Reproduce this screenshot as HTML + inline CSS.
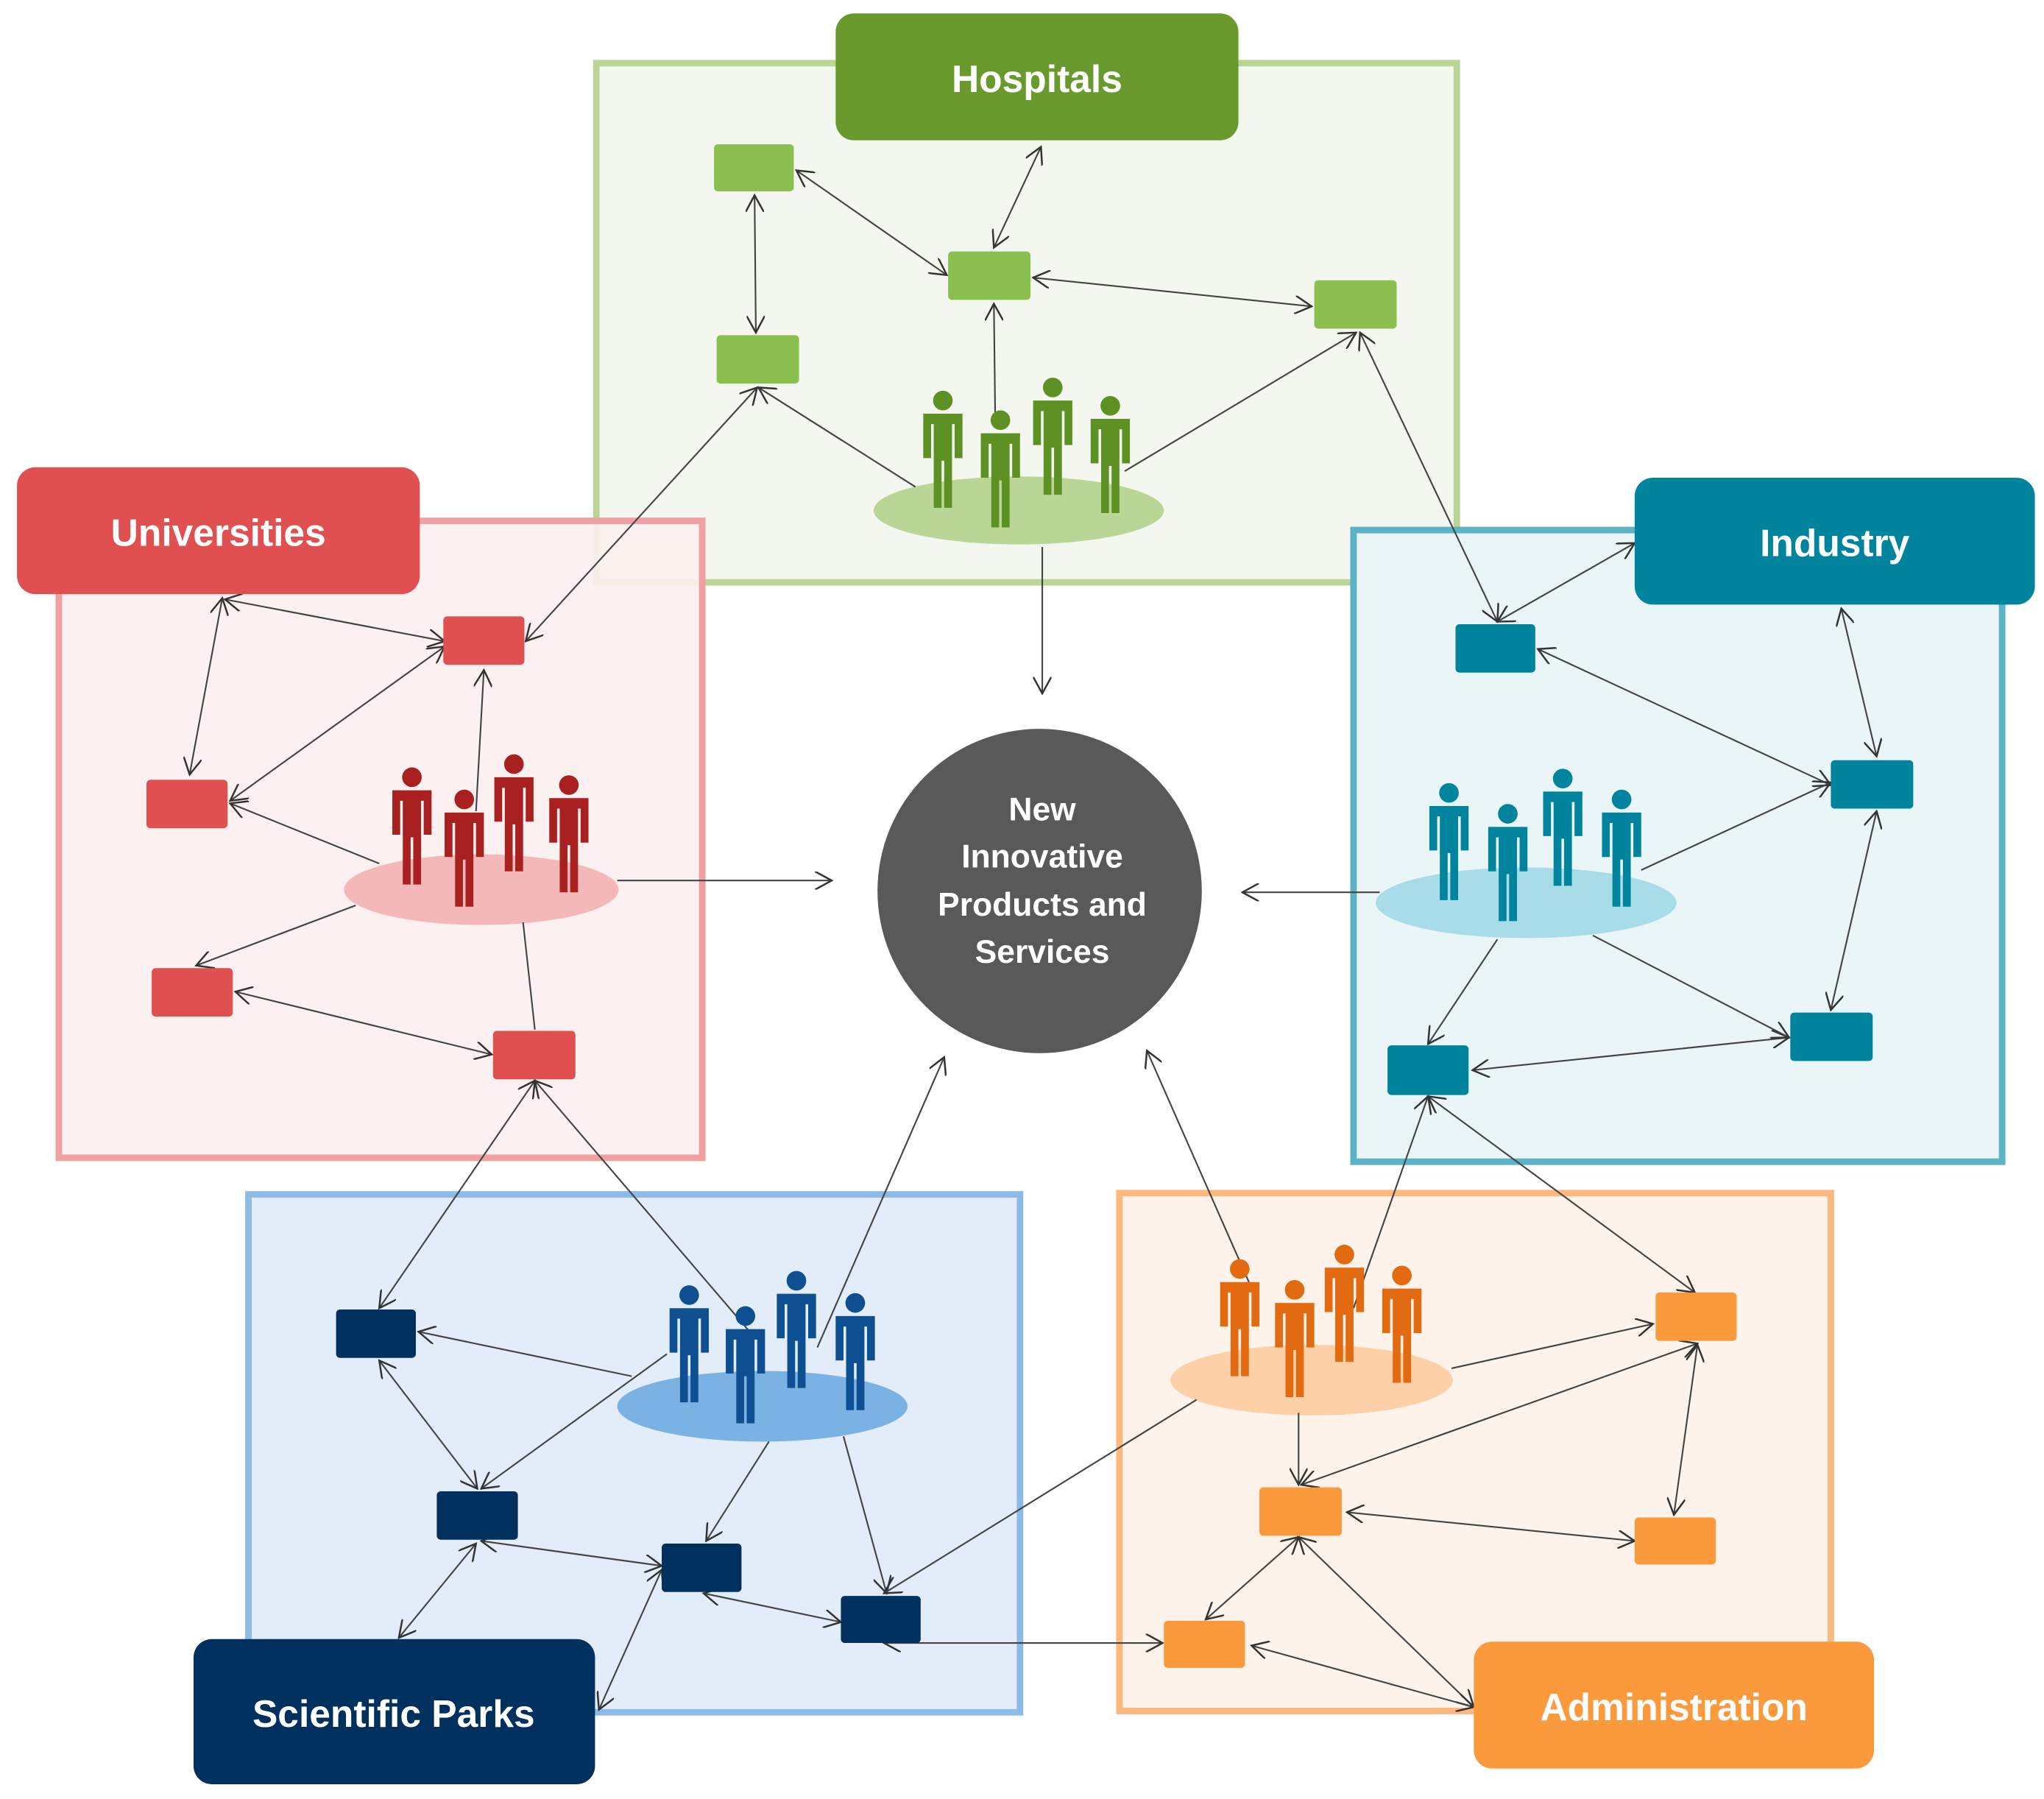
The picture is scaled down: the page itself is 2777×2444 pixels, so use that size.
<!DOCTYPE html>
<html><head><meta charset="utf-8">
<style>
html,body{margin:0;padding:0;background:#fff;}
svg{display:block;}
text{font-family:"Liberation Sans",sans-serif;font-weight:bold;fill:#fff;}
</style></head>
<body>
<svg width="2777" height="2444" viewBox="0 0 1563 1375" xmlns="http://www.w3.org/2000/svg">
<defs>
<marker id="a" viewBox="0 0 12 12" refX="11" refY="6" markerWidth="14" markerHeight="14" markerUnits="userSpaceOnUse" orient="auto-start-reverse">
<path d="M0,0 L11,6 L0,12" fill="none" stroke="#333" stroke-width="1.2"/>
</marker>
<g id="p">
<circle cx="0" cy="-82" r="7.5"/>
<path d="M-15,-72 h30 v34 h-6 v-26 h-2 v64 h-6 v-36 h-2 v36 h-6 v-64 h-2 v26 h-6 z"/>
</g>
</defs>

<!-- boxes -->
<rect x="456" y="48" width="658" height="397" fill="#f4f7ef" stroke="#b9d696" stroke-width="5"/>
<rect x="45" y="398" width="492" height="487" fill="#fcefee" fill-opacity="0.9" stroke="#f0a0a0" stroke-width="5"/>
<rect x="1035" y="405" width="496" height="483" fill="#eaf5f8" stroke="#5cb3c4" stroke-width="5"/>
<rect x="190" y="913" width="590" height="396" fill="#e3edf9" stroke="#8bbbe6" stroke-width="5"/>
<rect x="856" y="912" width="544" height="396" fill="#fdf3ea" stroke="#fcb97e" stroke-width="5"/>

<!-- ellipses -->
<ellipse cx="779" cy="390" rx="111" ry="26" fill="#b9d696"/>
<ellipse cx="368" cy="680" rx="105" ry="27" fill="#f5b8b8"/>
<ellipse cx="1167" cy="690" rx="115" ry="27" fill="#a8dce8"/>
<ellipse cx="583" cy="1075" rx="111" ry="27" fill="#7ab2e4"/>
<ellipse cx="1003" cy="1055" rx="108" ry="27" fill="#fdd0a8"/>

<!-- connectors -->
<g stroke="#444" stroke-width="1.2" fill="none">
<g marker-start="url(#a)" marker-end="url(#a)">
<line x1="577" y1="149" x2="578" y2="254"/>
<line x1="609" y1="130" x2="724" y2="210"/>
<line x1="796" y1="112" x2="760" y2="189"/>
<line x1="790" y1="212" x2="1003" y2="234"/>
<line x1="1040" y1="254" x2="1145" y2="475"/>
<line x1="579" y1="296" x2="402" y2="490"/>
<line x1="170" y1="457" x2="145" y2="592"/>
<line x1="172" y1="458" x2="340" y2="490"/>
<line x1="340" y1="494" x2="176" y2="612"/>
<line x1="180" y1="758" x2="376" y2="806"/>
<line x1="409" y1="826" x2="290" y2="1000"/>
<line x1="1145" y1="475" x2="1250" y2="415"/>
<line x1="1408" y1="465" x2="1435" y2="578"/>
<line x1="1176" y1="496" x2="1400" y2="600"/>
<line x1="1435" y1="620" x2="1400" y2="772"/>
<line x1="1126" y1="818" x2="1368" y2="793"/>
<line x1="1092" y1="838" x2="1296" y2="988"/>
<line x1="290" y1="1040" x2="365" y2="1138"/>
<line x1="368" y1="1178" x2="506" y2="1197"/>
<line x1="364" y1="1180" x2="305" y2="1252"/>
<line x1="506" y1="1200" x2="458" y2="1307"/>
<line x1="538" y1="1218" x2="643" y2="1240"/>
<line x1="676" y1="1256" x2="889" y2="1256"/>
<line x1="995" y1="1135" x2="1298" y2="1027"/>
<line x1="1298" y1="1028" x2="1280" y2="1158"/>
<line x1="1030" y1="1156" x2="1250" y2="1178"/>
<line x1="993" y1="1175" x2="922" y2="1238"/>
<line x1="993" y1="1175" x2="1127" y2="1305"/>
<line x1="957" y1="1258" x2="1127" y2="1305"/>
</g>
<g marker-end="url(#a)">
<line x1="761" y1="318" x2="760" y2="232"/>
<line x1="700" y1="372" x2="580" y2="296"/>
<line x1="860" y1="360" x2="1037" y2="254"/>
<line x1="797" y1="418" x2="797" y2="530"/>
<line x1="364" y1="620" x2="370" y2="512"/>
<line x1="290" y1="660" x2="176" y2="614"/>
<line x1="272" y1="692" x2="150" y2="738"/>
<line x1="472" y1="673" x2="636" y2="673"/>
<line x1="575" y1="1020" x2="409" y2="826"/>
<line x1="1255" y1="665" x2="1400" y2="598"/>
<line x1="1218" y1="715" x2="1368" y2="793"/>
<line x1="1145" y1="718" x2="1092" y2="798"/>
<line x1="1055" y1="682" x2="950" y2="682"/>
<line x1="1035" y1="1000" x2="1092" y2="838"/>
<line x1="625" y1="1030" x2="722" y2="808"/>
<line x1="955" y1="980" x2="877" y2="803"/>
<line x1="483" y1="1052" x2="320" y2="1018"/>
<line x1="510" y1="1035" x2="368" y2="1138"/>
<line x1="588" y1="1102" x2="540" y2="1178"/>
<line x1="645" y1="1098" x2="678" y2="1218"/>
<line x1="915" y1="1070" x2="676" y2="1218"/>
<line x1="1110" y1="1046" x2="1264" y2="1012"/>
<line x1="993" y1="1080" x2="993" y2="1135"/>
</g>
<line x1="400" y1="705" x2="409" y2="787"/>
</g>

<!-- nodes -->
<g fill="#8bbf4f">
<rect x="546" y="110" width="61" height="36" rx="3"/>
<rect x="725" y="192" width="63" height="37" rx="3"/>
<rect x="1005" y="214" width="63" height="37" rx="3"/>
<rect x="548" y="256" width="63" height="37" rx="3"/>
</g>
<g fill="#e05050">
<rect x="339" y="471" width="62" height="37" rx="3"/>
<rect x="112" y="596" width="62" height="37" rx="3"/>
<rect x="116" y="740" width="62" height="37" rx="3"/>
<rect x="377" y="788" width="63" height="37" rx="3"/>
</g>
<g fill="#00849e">
<rect x="1113" y="477" width="61" height="37" rx="3"/>
<rect x="1400" y="581" width="63" height="37" rx="3"/>
<rect x="1369" y="774" width="63" height="37" rx="3"/>
<rect x="1061" y="799" width="62" height="38" rx="3"/>
</g>
<g fill="#00305e">
<rect x="257" y="1001" width="61" height="37" rx="3"/>
<rect x="334" y="1140" width="62" height="37" rx="3"/>
<rect x="506" y="1180" width="61" height="37" rx="3"/>
<rect x="643" y="1220" width="61" height="36" rx="3"/>
</g>
<g fill="#fb9a3c">
<rect x="1266" y="988" width="62" height="37" rx="3"/>
<rect x="963" y="1137" width="63" height="37" rx="3"/>
<rect x="1250" y="1160" width="62" height="36" rx="3"/>
<rect x="890" y="1239" width="62" height="36" rx="3"/>
</g>

<!-- people -->
<g fill="#5e9124">
<use href="#p" x="721" y="388"/><use href="#p" x="805" y="378"/>
<use href="#p" x="765" y="403"/><use href="#p" x="849" y="392"/>
</g>
<g fill="#a82020">
<use href="#p" x="315" y="676"/><use href="#p" x="393" y="666"/>
<use href="#p" x="355" y="693"/><use href="#p" x="435" y="682"/>
</g>
<g fill="#00849e">
<use href="#p" x="1108" y="688"/><use href="#p" x="1195" y="677"/>
<use href="#p" x="1153" y="704"/><use href="#p" x="1240" y="693"/>
</g>
<g fill="#0d4f91">
<use href="#p" x="527" y="1072"/><use href="#p" x="609" y="1061"/>
<use href="#p" x="570" y="1088"/><use href="#p" x="654" y="1078"/>
</g>
<g fill="#e26a10">
<use href="#p" x="948" y="1052"/><use href="#p" x="1028" y="1041"/>
<use href="#p" x="990" y="1068"/><use href="#p" x="1072" y="1057"/>
</g>

<!-- labels -->
<rect x="639" y="10" width="308" height="97" rx="14" fill="#6a9a2e"/>
<text x="793" y="70" font-size="29" text-anchor="middle">Hospitals</text>
<rect x="13" y="357" width="308" height="97" rx="14" fill="#e05050"/>
<text x="167" y="417" font-size="29" text-anchor="middle">Universities</text>
<rect x="1250" y="365" width="306" height="97" rx="14" fill="#00849e"/>
<text x="1403" y="425" font-size="29" text-anchor="middle">Industry</text>
<rect x="148" y="1253" width="307" height="111" rx="14" fill="#00305e"/>
<text x="301" y="1320" font-size="29" text-anchor="middle">Scientific Parks</text>
<rect x="1127" y="1255" width="306" height="97" rx="14" fill="#fb9a3c"/>
<text x="1280" y="1315" font-size="29" text-anchor="middle">Administration</text>

<!-- center -->
<circle cx="795" cy="681" r="124" fill="#595959"/>
<g font-size="25" text-anchor="middle">
<text x="797" y="627">New</text>
<text x="797" y="663">Innovative</text>
<text x="797" y="700">Products and</text>
<text x="797" y="736">Services</text>
</g>
</svg>
</body></html>
